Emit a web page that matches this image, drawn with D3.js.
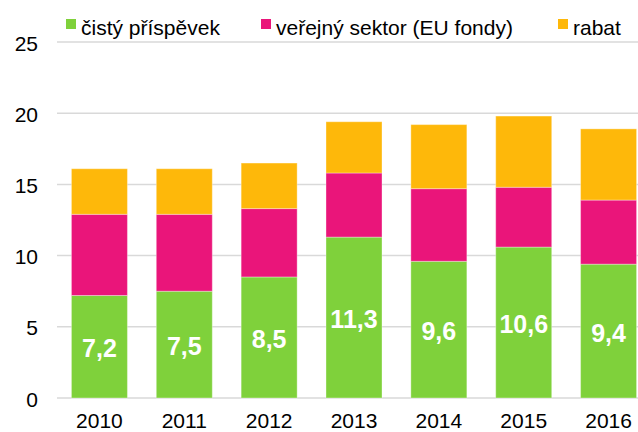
<!DOCTYPE html>
<html>
<head>
    <meta charset="utf-8">
    <script src="https://d3js.org/d3.v7.min.js"></script>
    <style>
        body { margin: 0; background: #fff; }
        text { font-family: "Liberation Sans", Arial, sans-serif; }
    </style>
</head>
<body>
    <svg width="638" height="432"></svg>
    <script>
        // Data
        const years = ["2010", "2011", "2012", "2013", "2014", "2015", "2016"];
        const cisty = [7.2, 7.5, 8.5, 11.3, 9.6, 10.6, 9.4];
        const verejny = [5.7, 5.4, 4.8, 4.5, 5.1, 4.2, 4.5];
        const rabat = [3.2, 3.2, 3.2, 3.6, 4.5, 5.0, 5.0];
        const seriesNames = ["čistý příspěvek", "veřejný sektor (EU fondy)", "rabat"];
        const yTicks = [0, 5, 10, 15, 20, 25];

        const colors = ["#7FD13B", "#EA157A", "#FEB80A"];

        const svg = d3.select("svg");

        // plot area runs past the right edge (chart is cropped)
        const x = d3.scaleBand().domain(years).range([57, 651]).paddingInner(0.34).paddingOuter(0.17);
        const y = d3.scaleLinear().domain([0, 25]).range([398, 42]);

        // Gridlines
        svg.append("g")
            .selectAll("line")
            .data(yTicks)
            .enter().append("line")
            .attr("x1", 57)
            .attr("x2", 638)
            .attr("y1", d => y(d))
            .attr("y2", d => y(d))
            .attr("stroke", "#d9d9d9")
            .attr("stroke-width", 1.5);

        // Y tick labels
        svg.append("g")
            .selectAll("text")
            .data(yTicks)
            .enter().append("text")
            .attr("x", 38)
            .attr("y", d => y(d) + 8.5)
            .attr("text-anchor", "end")
            .style("font-size", "21px")
            .attr("fill", "#000")
            .text(d => d);

        // Stack
        const rows = years.map((yr, i) => ({year: yr, a: cisty[i], b: verejny[i], c: rabat[i]}));
        const stack = d3.stack().keys(["a", "b", "c"])(rows);

        svg.append("g")
            .selectAll("g")
            .data(stack)
            .enter().append("g")
            .attr("fill", (d, i) => colors[i])
            .selectAll("rect")
            .data(d => d)
            .enter().append("rect")
            .attr("x", d => x(d.data.year))
            .attr("width", x.bandwidth())
            .attr("y", d => y(d[1]))
            .attr("height", d => y(d[0]) - y(d[1]))
            .attr("stroke", "rgba(255,255,255,0.35)")
            .attr("stroke-width", 1);

        // Value labels in green segment
        svg.append("g")
            .selectAll("text")
            .data(rows)
            .enter().append("text")
            .attr("x", d => x(d.year) + x.bandwidth() / 2)
            .attr("y", d => y(d.a / 2))
            .attr("dy", "0.42em")
            .attr("text-anchor", "middle")
            .attr("fill", "#fff")
            .style("font-size", "25px")
            .style("font-weight", "bold")
            .text(d => String(d.a.toFixed(1)).replace(".", ","));

        // X labels
        svg.append("g")
            .selectAll("text")
            .data(years)
            .enter().append("text")
            .attr("x", d => x(d) + x.bandwidth() / 2)
            .attr("y", 428)
            .attr("text-anchor", "middle")
            .style("font-size", "21px")
            .attr("fill", "#000")
            .text(d => d);

        // Legend
        const legendX = [66, 261, 558];
        const legend = svg.append("g")
            .selectAll("g")
            .data(seriesNames)
            .enter().append("g")
            .attr("transform", (d, i) => "translate(" + legendX[i] + ",19)");

        legend.append("rect")
            .attr("width", 10)
            .attr("height", 10)
            .attr("fill", (d, i) => colors[i]);

        legend.append("text")
            .attr("x", 15)
            .attr("y", 15.5)
            .style("font-size", "21px")
            .attr("fill", "#000")
            .text(d => d);
    </script>
</body>
</html>
